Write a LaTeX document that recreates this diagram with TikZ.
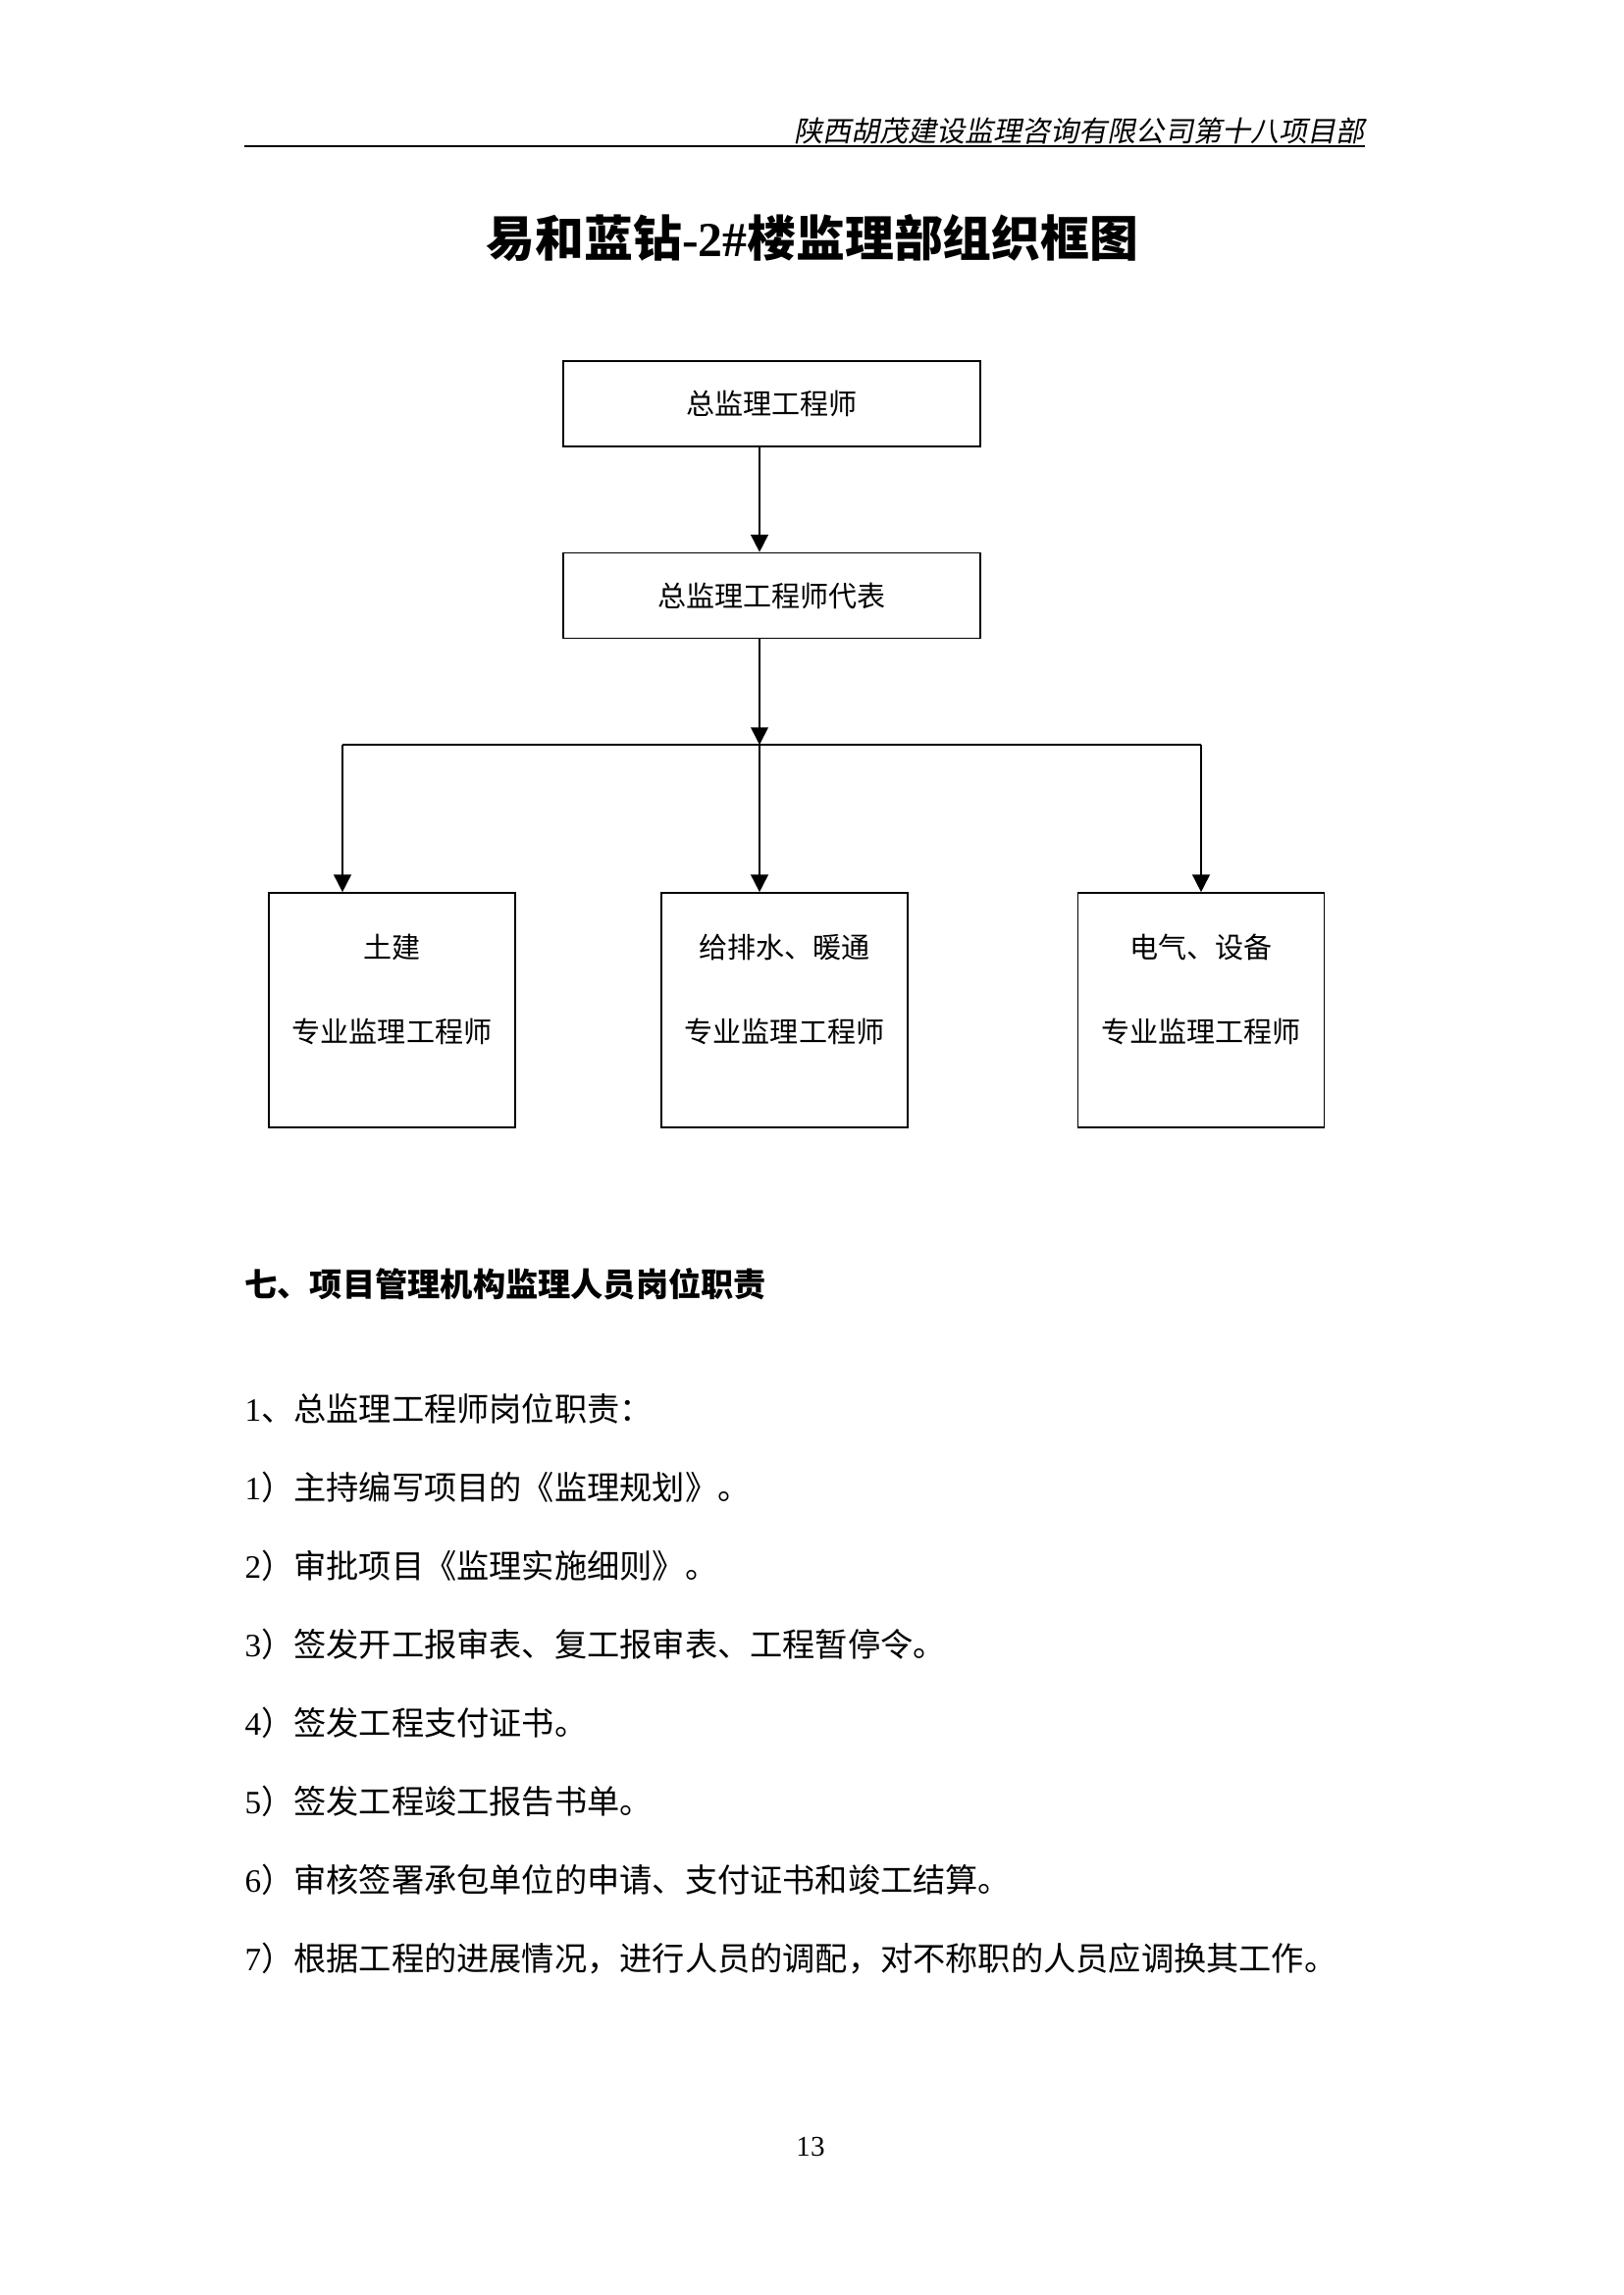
\documentclass[tikz,border=0pt]{standalone}
\usepackage{fontspec}
\setmainfont{Liberation Serif}
\newfontfamily\cjk{Noto Sans CJK SC}
\newfontfamily\cjkit[FakeSlant=0.2]{Noto Sans CJK SC}
\usetikzlibrary{arrows.meta,positioning}

\def\px{0.12697mm}
\tikzset{
  line/.style={line width=0.6pt},
  arr/.style={line width=0.6pt,-{Triangle[length=6.4pt,width=6.4pt]}},
  topbox/.style={draw,line width=0.6pt,minimum width=425*\px,minimum height=87*\px,inner sep=0pt,font=\cjk\fontsize{10.5}{12.6}\selectfont},
  subbox/.style={draw,line width=0.6pt,minimum width=251*\px,minimum height=239*\px,inner sep=0pt},
  subtext/.style={align=center,inner sep=0pt,font=\cjk\fontsize{10.5}{12.6}\selectfont},
  bodytext/.style={anchor=west,inner sep=0pt,font=\fontsize{12}{14.4}\selectfont}
}

\begin{document}
\begin{tikzpicture}[x=\px,y=-\px]  % one unit = one pixel of the page

\fill[white] (0,0) rectangle (1654,2339);
\useasboundingbox (0,0) rectangle (1654,2339);

% page head
\node[anchor=east,inner sep=0pt,font=\cjkit\fontsize{10.5}{12.6}\selectfont] (head) at (1391,134) {陕西胡茂建设监理咨询有限公司第十八项目部};
\coordinate (hl) at (249,149);
\coordinate (hr) at (1391,149);
\draw[line width=0.8pt] (hl) -- (hr);

\node[inner sep=0pt,font=\cjk\bfseries\fontsize{18}{21.6}\selectfont] (title) at (828,243) {易和蓝钻{\rmfamily\bfseries -2\#}楼监理部组织框图};

% the chart
\node[topbox] (zj) at (786.5,411.5) {总监理工程师};
\node[topbox] (zjdb) at (786.5,607) {总监理工程师代表};

\def\subs{399.5/349/土建, 799.5/774/{给排水、暖通}, 1224/1224/{电气、设备}}
\foreach \cx/\ax/\name [count=\ni] in \subs
{
  \node[subbox] (s\ni) at (\cx,1029.5) {};
  \node[subtext] (st\ni) at (\cx,1008.5) {\name\\[18.7pt]专业监理工程师};
  \coordinate (j\ni) at (\ax,759);
  \draw[arr] (j\ni) -- (j\ni |- s\ni.north);
}

\draw[arr] (zj.south -| j2) -- (zjdb.north -| j2);
\draw[arr] (zjdb.south -| j2) -- (j2);
\draw[line] (j1) -- (j3);

% the duties
\node[bodytext,font=\cjk\bfseries\fontsize{12}{14.4}\selectfont] (sec) at (249,1309) {七、项目管理机构监理人员岗位职责};

\def\duties{1/、总监理工程师岗位职责：,
  1/）主持编写项目的《监理规划》。,
  2/）审批项目《监理实施细则》。,
  3/）签发开工报审表、复工报审表、工程暂停令。,
  4/）签发工程支付证书。,
  5/）签发工程竣工报告书单。,
  6/）审核签署承包单位的申请、支付证书和竣工结算。,
  7/）根据工程的进展情况，进行人员的调配，对不称职的人员应调换其工作。}
\foreach \n/\t [count=\ni] in \duties
  \node[bodytext] (d\ni) at (249,{1436+80*(\ni-1)}) {\n{\cjk\t}};

\node[inner sep=0pt,font=\fontsize{10.5}{12.6}\selectfont] (pg) at (826,2188) {13};

\end{tikzpicture}
\end{document}
